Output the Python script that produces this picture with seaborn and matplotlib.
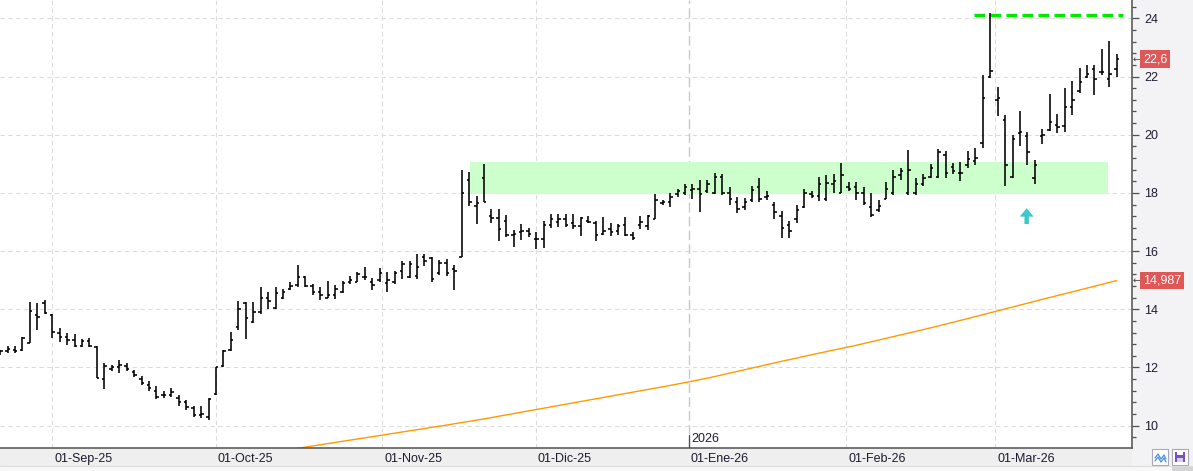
import numpy as np
import pandas as pd
import matplotlib
matplotlib.use("Agg")
import matplotlib.pyplot as plt
import matplotlib.transforms as mtransforms
from matplotlib.patches import Rectangle
from matplotlib.ticker import MultipleLocator
import seaborn as sns

# Daily OHLC, 21-Aug-25 .. 24-Mar-26 (one row per month)
opens = [
    12.50, 12.55, 12.60, 12.60, 12.85, 13.80, 14.20,
    13.80, 13.20, 13.05, 12.95, 12.72, 12.90, 12.70, 11.60, 11.95, 12.00, 12.05, 11.85, 11.60, 11.40, 11.20, 11.05, 11.05, 10.95, 10.80, 10.60, 10.35, 10.30,
    11.10, 12.05, 12.60, 13.40, 14.20, 13.55, 13.90, 14.40, 14.05, 14.40, 14.70, 14.85, 15.10, 14.80, 14.60, 14.40, 14.50, 14.60, 14.95, 14.95, 15.10, 14.95, 15.00,
    14.90, 14.95, 15.30, 15.10, 15.15, 15.80, 15.75, 15.25, 15.60, 15.40, 15.80, 18.45, 17.55, 18.50, 17.20, 17.15, 17.05, 16.55, 16.65, 16.70,
    16.40, 16.40, 16.90, 17.00, 17.10, 16.95, 16.85, 17.05, 16.95, 16.60, 16.75, 16.70, 16.90, 16.55, 16.90, 16.85, 17.10, 17.65, 17.70, 17.95, 18.00,
    18.10, 18.15, 18.05, 18.00, 18.55, 18.00, 17.70, 17.50, 17.75, 18.20, 17.85, 17.60, 17.20, 16.90, 17.10, 17.50, 17.95, 17.90, 17.80, 18.30, 18.00,
    18.20, 18.20, 18.00, 17.50, 17.40, 17.80, 18.00, 18.60, 18.00, 18.00, 18.30, 18.55, 18.55, 19.30, 18.90, 18.70, 18.95, 19.10, 19.70, 22.00,
    21.20, 20.50, 18.55, 20.05, 19.95, 18.50, 19.95, 20.15, 20.35, 20.30, 20.95, 21.50, 22.00, 22.25, 22.15, 21.90, 22.25,
]
highs = [
    12.61, 12.72, 12.72, 13.06, 14.24, 14.21, 14.32,
    13.83, 13.35, 13.20, 13.15, 12.97, 13.00, 12.72, 12.15, 12.09, 12.24, 12.15, 11.92, 11.71, 11.54, 11.35, 11.18, 11.29, 11.06, 10.87, 10.66, 10.66, 10.95,
    12.01, 12.61, 13.23, 14.30, 14.24, 14.24, 14.75, 14.58, 14.76, 14.69, 14.93, 15.52, 15.15, 14.88, 14.76, 14.98, 14.84, 14.98, 15.15, 15.27, 15.44, 15.07, 15.41,
    15.27, 15.33, 15.67, 15.67, 15.90, 15.90, 15.78, 15.69, 15.72, 15.52, 18.77, 18.72, 17.88, 18.98, 17.45, 17.45, 17.25, 16.71, 16.94, 16.79,
    16.67, 17.02, 17.28, 17.28, 17.28, 17.28, 17.17, 17.19, 17.05, 17.17, 16.98, 16.94, 17.17, 16.67, 17.19, 17.25, 17.97, 17.75, 18.00, 18.12, 18.29,
    18.29, 18.43, 18.43, 18.69, 18.64, 18.21, 17.86, 17.83, 18.25, 18.52, 18.08, 17.69, 17.36, 17.05, 17.57, 18.12, 18.06, 18.55, 18.61, 18.64, 19.04,
    18.37, 18.37, 18.21, 18.00, 17.75, 18.38, 18.79, 18.87, 19.47, 18.50, 18.66, 19.00, 19.51, 19.43, 19.03, 19.05, 19.45, 19.54, 22.06, 24.17,
    21.63, 20.69, 20.00, 20.82, 20.08, 19.14, 20.21, 21.41, 20.72, 21.60, 21.86, 22.29, 22.40, 22.40, 22.95, 23.22, 22.78,
]
lows = [
    12.43, 12.49, 12.51, 12.55, 12.83, 13.27, 13.83,
    13.00, 12.89, 12.78, 12.70, 12.70, 12.70, 11.63, 11.27, 11.86, 11.81, 11.86, 11.67, 11.39, 11.18, 10.91, 10.95, 10.98, 10.66, 10.55, 10.30, 10.26, 10.18,
    11.06, 12.01, 12.55, 13.29, 12.97, 13.51, 13.82, 14.02, 14.02, 14.35, 14.65, 14.78, 14.76, 14.50, 14.33, 14.39, 14.36, 14.56, 14.86, 14.92, 15.01, 14.67, 14.95,
    14.58, 14.86, 15.05, 15.07, 15.03, 15.47, 14.95, 15.18, 15.13, 14.65, 15.78, 17.54, 16.94, 17.68, 16.98, 16.36, 16.47, 16.15, 16.38, 16.50,
    16.07, 16.12, 16.79, 16.82, 16.82, 16.75, 16.53, 16.98, 16.36, 16.55, 16.53, 16.55, 16.53, 16.38, 16.76, 16.71, 17.10, 17.57, 17.51, 17.86, 17.94,
    17.79, 17.34, 17.98, 17.97, 17.94, 17.57, 17.31, 17.42, 17.69, 17.68, 17.75, 17.10, 16.46, 16.46, 16.96, 17.48, 17.83, 17.71, 17.71, 17.98, 17.98,
    18.08, 17.77, 17.57, 17.16, 17.34, 17.79, 17.94, 18.44, 17.94, 17.94, 18.25, 18.51, 18.51, 18.51, 18.65, 18.40, 18.86, 18.97, 19.54, 21.94,
    20.63, 18.23, 18.51, 19.60, 18.97, 18.29, 19.69, 20.11, 20.06, 20.09, 20.69, 21.43, 21.94, 21.37, 22.06, 21.63, 21.98,
]
closes = [
    12.55, 12.62, 12.58, 13.00, 13.95, 13.75, 13.87,
    13.22, 13.05, 12.95, 12.72, 12.90, 12.75, 11.65, 12.05, 12.00, 12.10, 11.95, 11.75, 11.45, 11.30, 11.00, 11.05, 11.15, 10.80, 10.65, 10.35, 10.40, 10.90,
    12.00, 12.55, 12.95, 14.00, 13.70, 13.90, 14.40, 14.30, 14.55, 14.60, 14.80, 15.10, 14.80, 14.60, 14.50, 14.50, 14.70, 14.90, 15.00, 15.20, 15.10, 14.85, 15.25,
    15.00, 15.25, 15.55, 15.55, 15.45, 15.65, 15.05, 15.60, 15.25, 15.30, 18.00, 17.70, 17.65, 17.70, 17.15, 16.75, 16.55, 16.60, 16.70, 16.60,
    16.40, 16.90, 17.10, 17.10, 16.90, 16.85, 17.15, 17.00, 16.55, 16.70, 16.65, 16.85, 16.55, 16.45, 17.00, 17.20, 17.75, 17.70, 17.85, 18.05, 18.20,
    18.15, 17.95, 18.30, 18.55, 18.00, 17.80, 17.45, 17.70, 18.10, 17.80, 17.90, 17.35, 16.80, 16.70, 17.40, 18.00, 17.90, 18.30, 18.35, 18.40, 18.60,
    18.15, 18.00, 17.65, 17.25, 17.55, 18.15, 18.55, 18.75, 18.80, 18.30, 18.50, 18.85, 19.40, 18.70, 18.75, 18.70, 19.15, 19.20, 21.25, 22.20,
    21.25, 18.95, 19.85, 20.10, 19.40, 18.95, 20.00, 20.45, 20.25, 20.95, 21.20, 21.80, 22.10, 21.90, 22.15, 22.10, 22.60,
]

first_day = "2025-08-21"
last_day = "2026-03-24"
holidays = ["2025-12-25", "2025-12-26", "2026-01-01"]

# long moving average, read at a few bars (bar number, value)
ma_bars = [36, 41, 46, 51, 56, 61, 66, 71, 76, 81, 86, 91, 96, 101, 106, 111, 116, 121, 126, 131, 136, 141, 146, 151]
ma_values = [9.03, 9.22, 9.42, 9.62, 9.82, 10.02, 10.23, 10.46, 10.69, 10.92, 11.15, 11.38, 11.63, 11.92,
             12.21, 12.49, 12.76, 13.06, 13.36, 13.68, 14.01, 14.34, 14.66, 14.987]

month_dates = ["2025-09-01", "2025-10-01", "2025-11-01", "2025-12-01", "2026-01-01", "2026-02-01", "2026-03-01"]
month_labels = ["01-Sep-25", "01-Oct-25", "01-Nov-25", "01-Dic-25", "01-Ene-26", "01-Feb-26", "01-Mar-26"]

zone_low, zone_high = 17.96, 19.06
resistance = 24.11
last_price = 22.6
ma_last = 14.987

# ---- trading-day axis
dates = pd.bdate_range(first_day, last_day).difference(pd.to_datetime(holidays))
x = np.arange(1, len(dates) + 1)
day_num = dates.values.astype("datetime64[D]").astype(int)
month_num = pd.to_datetime(month_dates).values.astype("datetime64[D]").astype(int)
month_pos = np.interp(month_num, day_num, x)

sns.set_style("white")
plt.rcParams['font.family'] = ['Liberation Sans Narrow', 'Liberation Sans', 'DejaVu Sans']

W, H = 1193, 471
fig = plt.figure(figsize=(W / 100, H / 100), dpi=100, facecolor="#f3f3f5")
ax = fig.add_axes([0, 1 - 448 / H, 1132 / W, 448 / H])
ax.set_facecolor("white")

# background band under the date axis (pixel overlay)
ov = fig.add_axes([0, 0, 1, 1], zorder=-1)
ov.set_xlim(0, W)
ov.set_ylim(H, 0)
ov.axis("off")
ov.add_patch(Rectangle((0, 448), 1132, 18, fc="#efefef", ec="none"))
ov.add_patch(Rectangle((0, 466), W, 5, fc="#f8f8f8", ec="none"))
ov.plot([0, W], [466, 466], color="#dddddd", lw=0.8)
ov.add_patch(Rectangle((1172, 466), 21, 5, fc="#d4d4d4", ec="none"))
# the two little toolbar buttons
ov.add_patch(Rectangle((1152, 449), 16, 16, fc="white", ec="#a8a8b8", lw=0.8))
ov.plot([1155, 1158, 1161, 1164, 1166], [458, 454, 459, 455, 459], color="#4a90d9", lw=0.9)
ov.plot([1155, 1158, 1161, 1164, 1166], [461, 457, 462, 458, 462], color="#4a90d9", lw=0.9)
ov.add_patch(Rectangle((1172, 449), 16, 16, fc="white", ec="#a8a8b8", lw=0.8))
ov.add_patch(Rectangle((1175, 452), 10, 10, fc="#7a4fbf", ec="none"))
ov.add_patch(Rectangle((1177, 452), 6, 3, fc="white", ec="none"))
ov.add_patch(Rectangle((1177, 458), 6, 4, fc="#d9cdf0", ec="none"))

ax.set_xlim(0.98, 153.05)
ax.set_ylim(9.23, 24.63)

# grid
dash = (0, (4, 3))
for yv in range(10, 25, 2):
    ax.axhline(yv, color="#dcdcdc", lw=0.8, ls=dash, zorder=0)
for mp in np.delete(month_pos, 4):
    ax.axvline(mp, color="#dcdcdc", lw=0.8, ls=dash, zorder=0)
ax.axvline(month_pos[4], color="#c9c9c9", lw=1.0, ls=(0, (7, 3)), zorder=0)

# support / resistance zone
ax.add_patch(Rectangle((64.1, zone_low), 149.8 - 64.1, zone_high - zone_low,
                       fc="#ccffcc", ec="none", zorder=1))
ax.hlines(resistance, 131.8, 151.8, color="#00e600", lw=2.4, ls=(0, (3.2, 1.6)), zorder=2)

# moving average
sns.lineplot(x=ma_bars, y=ma_values, ax=ax, color="#ff9a00", lw=1.0, zorder=2)

# OHLC bars
ax.vlines(x, lows, highs, color="black", lw=1.15, zorder=3)
ax.hlines(opens, x - 0.33, x, color="black", lw=1.15, zorder=3)
ax.hlines(closes, x, x + 0.33, color="black", lw=1.15, zorder=3)

# arrow below the zone
ax.annotate("", xy=(138.9, 17.47), xytext=(138.9, 16.93),
            arrowprops=dict(width=3.2, headwidth=10, headlength=6, color="#3cc8c8", lw=0))

# axes styling
for s in ["top", "left"]:
    ax.spines[s].set_visible(False)
for s in ["bottom", "right"]:
    ax.spines[s].set_color("#505050")
    ax.spines[s].set_linewidth(1.1)

ax.yaxis.tick_right()
ax.set_yticks(range(10, 25, 2))
ax.yaxis.set_minor_locator(MultipleLocator(0.4))
ax.tick_params(axis="y", which="major", length=5, width=0.9, color="#505050", pad=4,
               labelsize=9, labelcolor="#1c1c30")
ax.tick_params(axis="y", which="minor", length=2.6, width=0.9, color="#505050")

ax.set_xticks(month_pos)
ax.set_xticklabels([])
ax.tick_params(axis="x", which="major", length=6.5, width=0.9, color="#505050")

xtr = mtransforms.blended_transform_factory(ax.transData, ax.transAxes)
for mp, lab in zip(month_pos, month_labels):
    ax.text(mp + 0.25, -0.012, lab, transform=xtr, ha="left", va="top",
            fontsize=9, color="#1c1c30", clip_on=False)
ax.plot([month_pos[4], month_pos[4]], [0, 0.03], transform=xtr, color="#505050", lw=0.9)
ax.text(month_pos[4] + 0.3, 0.006, "2026", transform=xtr, ha="left", va="bottom",
        fontsize=9, color="#1c1c30")

# price labels on the right axis
ytr = mtransforms.blended_transform_factory(ax.transAxes, ax.transData)
for val, txt in [(last_price, "22,6"), (ma_last, "14,987")]:
    ax.text(1 + 11 / 1132, val, txt, transform=ytr, ha="left", va="center",
            fontsize=9, color="white", clip_on=False,
            bbox=dict(boxstyle="square,pad=0.22", fc="#e05757", ec="none"))
    ax.text(1 + 1 / 1132, val, "←", transform=ytr, ha="left", va="center",
            fontsize=6.5, color="#404040", family="DejaVu Sans", clip_on=False)

fig.savefig("out.png", dpi=100, facecolor=fig.get_facecolor())
